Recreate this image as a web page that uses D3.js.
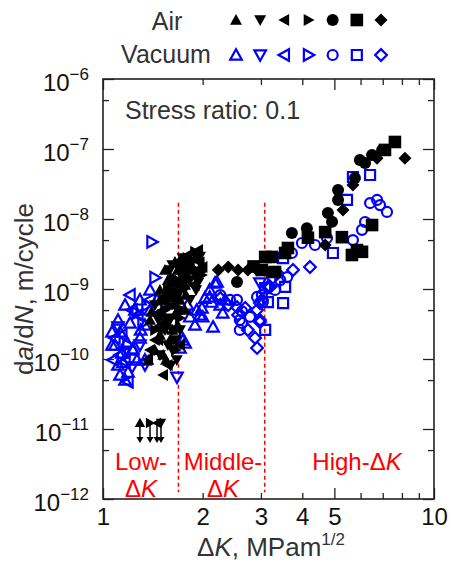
<!DOCTYPE html>
<html>
<head>
<meta charset="utf-8">
<script src="https://cdn.jsdelivr.net/npm/d3@7"></script>
<style>
  body { margin: 0; background: #fff; }
  text { font-family: Arial, "Liberation Sans", sans-serif; }
</style>
</head>
<body>
<svg id="chart" width="451" height="563"></svg>
<script>
// data: [deltaK (MPa m^1/2), da/dN (m/cycle)]
var airUp = [[1.436,1.34e-10],[1.486,2.2e-10],[1.539,3.6e-10],[1.57,5.9e-10],[1.62,9.7e-10],[1.65,1.34e-9],[1.68,1.87e-9],[1.74,1.58e-9],[1.77,1.14e-9],[1.80,2.2e-9],[1.86,1.87e-9],[1.593,1.87e-10],[1.52,1.14e-10],[1.65,4.3e-10],[1.708,7.0e-10],[1.78,8.2e-10],[1.37,9.7e-11],[1.40,4.7e-10],[1.65,2.43e-9],[1.896,2.77e-9],[1.963,1.99e-9],[1.57,1.34e-9],[1.486,7.0e-10],[1.769,5.0e-10],[1.68,3.06e-10],[1.62,2.6e-10],[1.55,9.7e-11],[1.539,1.87e-9],[1.708,2.6e-9],[1.486,9.7e-10],[1.387,3.6e-10],[1.66,9.0e-10],[1.68,5.0e-10],[1.52,2.7e-10]];
var airDown = [[1.539,2.6e-10],[1.593,3.8e-10],[1.64,7.0e-10],[1.67,1.14e-9],[1.72,1.58e-9],[1.76,9.7e-10],[1.83,1.34e-9],[1.90,1.58e-9],[1.94,1.24e-9],[1.62,1.34e-10],[1.67,9.7e-11],[1.57,1.58e-10],[1.486,1.14e-10],[1.593,1.87e-9],[1.74,2.77e-9],[1.91,9.7e-10],[1.539,7.0e-10],[1.47,3.6e-10],[1.66,1.87e-10],[1.60,8.0e-11],[1.62,2.2e-9],[1.963,2.9e-9],[1.436,5.9e-10],[1.831,7.0e-10],[1.593,3.6e-10],[1.708,2.6e-10]];
var airLeft = [[1.52,5.9e-11],[1.37,1.0e-10],[1.47,1.87e-10],[1.55,3.06e-10],[1.62,5.9e-10],[1.68,9.7e-10],[1.75,2.0e-9],[1.83,2.4e-9],[1.94,3.6e-9],[1.96,2.4e-9],[1.77,1.4e-9],[1.66,2.2e-9],[1.71,1.58e-10],[1.87,1.14e-9],[1.593,1.14e-9],[1.387,1.34e-10],[1.45,2.8e-10],[1.79,3.0e-9],[2.0,2.06e-9],[1.47,4.6e-10],[1.896,1.14e-9],[1.436,1.87e-10],[1.57,8.2e-11]];
var airRight = [[1.57,9.7e-10],[1.63,1.45e-9],[1.71,1.25e-9],[1.78,1.75e-9],[1.87,2.0e-9],[1.51,4.3e-10],[1.59,7.0e-10],[1.66,2.6e-10],[1.74,5.0e-10],[1.80,2.77e-9],[1.99,1.58e-9],[1.436,2.6e-10],[1.539,5.0e-10],[1.708,3.85e-10],[1.896,3.4e-9],[1.56,8.2e-10],[1.769,2.4e-9],[1.66,1.34e-10]];
var airCircle = [[2.54,1.26e-9],[3.20,1.75e-9],[3.72,6.3e-9],[4.13,7.4e-9],[4.78,1.22e-8],[4.92,9.1e-9],[5.13,1.87e-8],[5.13,2.6e-8],[5.77,3.85e-8],[5.97,6.97e-8],[6.19,6.3e-8],[6.50,8.2e-8],[6.97,9.7e-8]];
var airSquare = [[3.02,1.87e-9],[3.09,2.87e-9],[3.31,1.75e-9],[3.24,2.87e-9],[3.55,3.27e-9],[3.62,3.85e-9],[4.16,5.4e-9],[4.69,6.5e-9],[5.27,5.5e-9],[5.65,3.06e-9],[5.85,3.6e-9],[6.06,3.4e-9],[6.50,8.2e-9],[7.11,9.7e-8],[7.62,1.26e-7],[2.85,2.1e-9]];
var airDiamond = [[2.23,1.87e-9],[2.39,2.06e-9],[2.56,1.87e-9],[2.74,1.87e-9],[2.92,1.87e-9],[4.69,4.25e-9],[5.31,1.34e-8],[5.69,3.06e-8],[6.73,7.4e-8],[8.17,7.4e-8]];

var vacUp = [[1.126,2.43e-10],[1.207,3.27e-10],[1.18,1.75e-10],[1.14,1.22e-10],[1.19,6.5e-11],[1.166,5.0e-11],[1.267,9.7e-11],[1.293,2.0e-10],[1.339,3.06e-10],[1.387,5.0e-10],[1.456,7.0e-10],[1.249,5.0e-10],[1.087,1.58e-10],[1.065,2.43e-10],[1.11,8.2e-11],[1.745,1.87e-10],[1.708,1.44e-10],[2.21,1.26e-9],[2.10,9.7e-10],[2.18,1.22e-9],[2.10,7.7e-10],[2.03,7.4e-10],[1.99,5.36e-10],[2.13,6.5e-10],[2.26,5.9e-10],[2.34,7.0e-10],[1.92,5.0e-10],[1.83,4.0e-10],[2.15,2.87e-10],[2.0,4.0e-10],[2.30,4.54e-10],[1.77,1.69e-10],[1.73,2.06e-10],[1.896,3.06e-10],[1.963,4.25e-10],[1.80,5.9e-10],[1.23,1.4e-10],[1.15,9.0e-11],[1.30,2.6e-10],[1.065,1.58e-10],[1.11,3.6e-10],[1.166,5.9e-10],[1.293,7.0e-10],[1.23,1.34e-10],[1.339,9.7e-11],[1.126,5.9e-11],[1.387,9.7e-10]];
var vacDown = [[1.673,5.5e-11],[1.339,8.2e-11],[1.166,1.22e-10],[1.224,7.7e-11],[2.98,1.22e-9],[1.293,1.58e-10],[1.11,2.87e-10]];
var vacLeft = [[1.14,2.2e-10],[1.126,1.14e-10],[1.166,9.1e-11],[1.19,4.7e-11],[1.224,5.0e-10],[1.275,4.25e-10],[1.087,2.0e-10],[1.387,7.0e-10],[1.207,8.2e-10],[1.072,9.7e-11]];
var vacRight = [[1.406,4.7e-9],[1.436,1.45e-9],[1.358,5.9e-10],[1.267,4.54e-10],[1.321,3.27e-10],[1.19,1.58e-10]];
var vacCircle = [[2.42,7.0e-10],[2.63,3.27e-10],[2.59,2.6e-10],[2.78,4.0e-10],[2.92,7.7e-10],[3.43,1.34e-9],[3.02,8.2e-10],[3.04,6.5e-10],[2.26,8.2e-10],[2.54,7.0e-10],[2.59,3.6e-10],[2.63,4.8e-10],[3.60,1.48e-9],[3.99,4.54e-9],[4.37,4.25e-9],[4.75,5.36e-9],[5.69,5.0e-9],[6.06,7.0e-9],[6.19,9.06e-9],[6.41,1.69e-8],[6.73,1.87e-8],[6.87,1.58e-8],[7.21,1.26e-8],[3.72,3.27e-9],[3.31,9.7e-10]];
var vacSquare = [[3.09,1.03e-9],[3.15,6.5e-10],[3.09,2.6e-10],[3.50,6.3e-10],[3.55,1.07e-9],[4.95,3.27e-9],[5.46,1.87e-8],[5.69,3.98e-8],[6.41,4.25e-8],[3.50,2.77e-9]];
var vacDiamond = [[2.39,5.9e-10],[2.54,5.5e-10],[2.69,5.36e-10],[2.56,4.25e-10],[2.98,6.3e-10],[2.92,5.0e-10],[2.98,3.38e-10],[2.74,2.6e-10],[2.88,2.0e-10],[2.92,1.44e-10],[3.15,1.07e-9],[3.36,1.69e-9],[2.26,7.4e-10],[3.75,1.87e-9],[4.22,2.06e-9],[3.26,1.44e-9],[3.20,1.07e-9],[3.02,7.0e-10],[2.98,3.6e-10]];

// run-outs below the plotted range (marker + down arrow)
var runoutK = [1.293, 1.387, 1.456, 1.497];
var runoutShapes = ["up", "right", "left", "down"];
var runoutTop = 1.22e-11, runoutBottom = 6.3e-12;

var regionBounds = [1.69, 3.08];
var regionLineTop = 1.7e-8, regionLineBottom = 1.25e-12;

var xMajor = [1, 5, 10], xMinor = [2, 3, 4, 6, 7, 8, 9], xLabels = [1, 2, 3, 4, 5, 10];
var yMajor = [1e-12, 1e-11, 1e-10, 1e-9, 1e-8, 1e-7, 1e-6];
var yMinor = [5e-12, 5e-11, 5e-10, 5e-9, 5e-8, 5e-7];
var shapeOrder = ["up", "down", "left", "right", "circle", "square", "diamond"];

(function () {
  var svg = d3.select("#chart");
  var pL = 103, pR = 434, pT = 79, pB = 499;

  var x = d3.scaleLog().domain([1, 10]).range([pL, pR]);
  var y = d3.scaleLog().domain([1e-12, 1e-6]).range([pB, pT]);

  function marker(shape, r) {
    switch (shape) {
      case "up": return "M0," + (-r) + "L" + r + "," + (0.8 * r) + "L" + (-r) + "," + (0.8 * r) + "Z";
      case "down": return "M0," + r + "L" + r + "," + (-0.8 * r) + "L" + (-r) + "," + (-0.8 * r) + "Z";
      case "left": return "M" + (-r) + ",0L" + (0.8 * r) + "," + (-r) + "L" + (0.8 * r) + "," + r + "Z";
      case "right": return "M" + r + ",0L" + (-0.8 * r) + "," + (-r) + "L" + (-0.8 * r) + "," + r + "Z";
      case "circle": return d3.symbol(d3.symbolCircle, Math.PI * r * r)();
      case "square": return "M" + (-r) + "," + (-r) + "H" + r + "V" + r + "H" + (-r) + "Z";
      case "diamond": return "M0," + (-r * 1.25) + "L" + (r * 1.25) + ",0L0," + (r * 1.25) + "L" + (-r * 1.25) + ",0Z";
    }
  }
  var airSize = { up: 6, down: 6, left: 6, right: 6, circle: 6, square: 6.3, diamond: 5.2 };
  var vacSize = { up: 5.8, down: 5.8, left: 5.8, right: 5.8, circle: 5, square: 5, diamond: 4.7 };

  function styleAir(sel) { sel.attr("fill", "#000").attr("stroke", "none"); }
  function styleVac(sel) { sel.attr("fill", "none").attr("stroke", "#0000ff").attr("stroke-width", 2.2); }

  // ticks (inward) on all four sides
  function tickAxis(axis, tx, ty, vals, len) {
    svg.append("g")
      .attr("transform", "translate(" + tx + "," + ty + ")")
      .call(axis.tickValues(vals).tickSize(-len).tickFormat(""))
      .call(function (g) { g.select(".domain").remove(); })
      .selectAll("line").attr("stroke", "#222").attr("stroke-width", 1.3);
  }
  tickAxis(d3.axisBottom(x), 0, pB, xMajor, 11);
  tickAxis(d3.axisBottom(x), 0, pB, xMinor, 6);
  tickAxis(d3.axisTop(x), 0, pT, xMajor, 11);
  tickAxis(d3.axisTop(x), 0, pT, xMinor, 6);
  tickAxis(d3.axisLeft(y), pL, 0, yMajor, 11);
  tickAxis(d3.axisLeft(y), pL, 0, yMinor, 6);
  tickAxis(d3.axisRight(y), pR, 0, yMajor, 11);
  tickAxis(d3.axisRight(y), pR, 0, yMinor, 6);

  // frame
  svg.append("rect")
    .attr("x", pL).attr("y", pT)
    .attr("width", pR - pL).attr("height", pB - pT)
    .attr("fill", "none").attr("stroke", "#222").attr("stroke-width", 1.6);

  // tick labels
  var xl = svg.append("g")
    .attr("transform", "translate(0," + pB + ")")
    .call(d3.axisBottom(x).tickValues(xLabels).tickSize(0).tickPadding(9).tickFormat(d3.format("d")));
  xl.select(".domain").remove();
  xl.selectAll("text").attr("font-size", 24).attr("fill", "#111").style("font-family", "Arial, 'Liberation Sans', sans-serif");

  var yl = svg.append("g")
    .attr("transform", "translate(" + pL + ",0)")
    .call(d3.axisLeft(y).tickValues(yMajor).tickSize(0).tickPadding(14));
  yl.select(".domain").remove();
  yl.selectAll("text")
    .attr("font-size", 24).attr("fill", "#111").attr("dy", "0.48em")
    .style("font-family", "Arial, 'Liberation Sans', sans-serif")
    .each(function (d) {
      var t = d3.select(this).text("");
      t.append("tspan").text("10");
      t.append("tspan").attr("dy", -11).attr("font-size", 17).text("\u2212" + Math.round(-Math.log10(d)));
    });

  // region boundaries
  svg.selectAll(".bound").data(regionBounds).enter().append("line")
    .attr("x1", function (d) { return x(d); }).attr("x2", function (d) { return x(d); })
    .attr("y1", y(regionLineTop)).attr("y2", y(regionLineBottom))
    .attr("stroke", "#ff0000").attr("stroke-width", 1.5).attr("stroke-dasharray", "4,3");

  // scatter
  var vacSeries = [[vacUp, "up"], [vacDown, "down"], [vacLeft, "left"], [vacRight, "right"], [vacCircle, "circle"], [vacSquare, "square"], [vacDiamond, "diamond"]];
  var airSeries = [[airUp, "up"], [airDown, "down"], [airLeft, "left"], [airRight, "right"], [airCircle, "circle"], [airSquare, "square"], [airDiamond, "diamond"]];

  vacSeries.forEach(function (s) {
    svg.append("g").selectAll("path").data(s[0]).enter().append("path")
      .attr("d", marker(s[1], vacSize[s[1]]))
      .attr("transform", function (d) { return "translate(" + x(d[0]) + "," + y(d[1]) + ")"; })
      .call(styleVac);
  });
  airSeries.forEach(function (s) {
    svg.append("g").selectAll("path").data(s[0]).enter().append("path")
      .attr("d", marker(s[1], airSize[s[1]]))
      .attr("transform", function (d) { return "translate(" + x(d[0]) + "," + y(d[1]) + ")"; })
      .call(styleAir);
  });

  // run-out arrows
  var ro = svg.append("g").selectAll("g").data(runoutK).enter().append("g");
  ro.append("line")
    .attr("x1", function (d) { return x(d); }).attr("x2", function (d) { return x(d); })
    .attr("y1", y(runoutTop)).attr("y2", y(runoutBottom) - 4)
    .attr("stroke", "#000").attr("stroke-width", 1.5);
  ro.append("path")
    .attr("d", "M-3.5,-6L3.5,-6L0,0Z")
    .attr("transform", function (d) { return "translate(" + x(d) + "," + y(runoutBottom) + ")"; })
    .attr("fill", "#000");
  ro.append("path")
    .attr("d", function (d, i) { return marker(runoutShapes[i], 5.2); })
    .attr("transform", function (d) { return "translate(" + x(d) + "," + y(runoutTop) + ")"; })
    .call(styleAir);

  // region labels
  function regionText(txt, cx, by, italicK) {
    var t = svg.append("text").attr("x", cx).attr("y", by).attr("text-anchor", "middle")
      .attr("font-size", 24).attr("fill", "#ff0000");
    t.append("tspan").text(txt);
    if (italicK) t.append("tspan").attr("font-style", "italic").text("K");
  }
  regionText("Low-", 141, 470, false);
  regionText("\u0394", 141, 497, true);
  regionText("Middle-", 223, 470, false);
  regionText("\u0394", 223, 497, true);
  regionText("High-\u0394", 357, 470, true);

  svg.append("text").attr("x", 125).attr("y", 119)
    .attr("font-size", 25).attr("fill", "#333").text("Stress ratio: 0.1");

  // legend
  var legX = d3.scaleLinear().domain([0, 6]).range([236, 381]);
  svg.append("text").attr("x", 167).attr("y", 30).attr("text-anchor", "middle")
    .attr("font-size", 25).attr("fill", "#333").text("Air");
  svg.append("text").attr("x", 166).attr("y", 63).attr("text-anchor", "middle")
    .attr("font-size", 25).attr("fill", "#333").text("Vacuum");
  svg.append("g").selectAll("path").data(shapeOrder).enter().append("path")
    .attr("d", function (d) { return marker(d, airSize[d]); })
    .attr("transform", function (d, i) { return "translate(" + legX(i) + ",20)"; })
    .call(styleAir);
  svg.append("g").selectAll("path").data(shapeOrder).enter().append("path")
    .attr("d", function (d) { return marker(d, vacSize[d]); })
    .attr("transform", function (d, i) { return "translate(" + legX(i) + ",55)"; })
    .call(styleVac);

  // axis titles
  var xt = svg.append("text").attr("x", 271).attr("y", 556).attr("text-anchor", "middle")
    .attr("font-size", 26).attr("fill", "#333");
  xt.append("tspan").text("\u0394");
  xt.append("tspan").attr("font-style", "italic").text("K");
  xt.append("tspan").text(", MPam");
  xt.append("tspan").attr("dy", -11).attr("font-size", 17).text("1/2");

  var yt = svg.append("text").attr("transform", "translate(33,289) rotate(-90)").attr("text-anchor", "middle")
    .attr("font-size", 26).attr("fill", "#333");
  yt.append("tspan").text("d");
  yt.append("tspan").attr("font-style", "italic").text("a");
  yt.append("tspan").text("/d");
  yt.append("tspan").attr("font-style", "italic").text("N");
  yt.append("tspan").text(", m/cycle");
})();
</script>
</body>
</html>
